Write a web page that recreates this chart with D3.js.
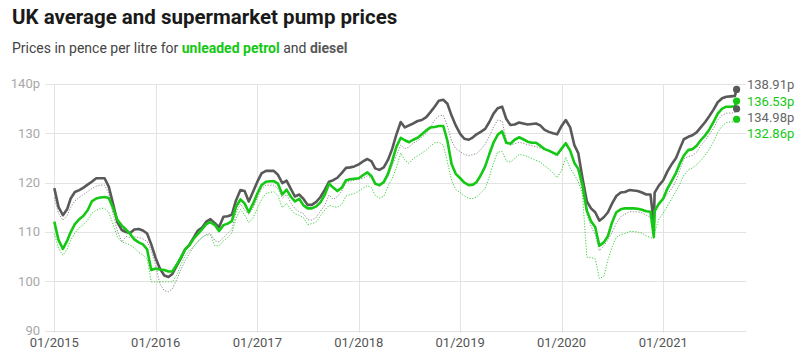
<!DOCTYPE html>
<html lang="en">
<head>
<meta charset="UTF-8">
<title>UK average and supermarket pump prices</title>
<style>
  body { margin: 0; background: #fff; font-family: Roboto, "Noto Sans", sans-serif; }
  .title { font-size: 20.5px; font-weight: 700; fill: #1a1a1a; }
  .subtitle { font-size: 14px; fill: #444; }
  .grid line { stroke: #e3e3e3; stroke-width: 1px; shape-rendering: crispEdges; }
  .ylab { font-size: 13px; fill: #a8a8a8; }
  .xlab { font-size: 13px; fill: #555; }
  .endlab { font-size: 13px; }
</style>
</head>
<body>
<div id="chart"></div>
<script src="https://cdn.jsdelivr.net/npm/d3@7"></script>
<script>
// half-monthly readings, plus one single-day dip in Nov 2020
const dates = [
  "2015-01-01","2015-01-16","2015-02-01","2015-02-16","2015-03-01","2015-03-16","2015-04-01","2015-04-16",
  "2015-05-01","2015-05-16","2015-06-01","2015-06-16","2015-07-01","2015-07-16","2015-08-01","2015-08-16",
  "2015-09-01","2015-09-16","2015-10-01","2015-10-16","2015-11-01","2015-11-16","2015-12-01","2015-12-16",
  "2016-01-01","2016-01-16","2016-02-01","2016-02-16","2016-03-01","2016-03-16","2016-04-01","2016-04-16",
  "2016-05-01","2016-05-16","2016-06-01","2016-06-16","2016-07-01","2016-07-16","2016-08-01","2016-08-16",
  "2016-09-01","2016-09-16","2016-10-01","2016-10-16","2016-11-01","2016-11-16","2016-12-01","2016-12-16",
  "2017-01-01","2017-01-16","2017-02-01","2017-02-16","2017-03-01","2017-03-16","2017-04-01","2017-04-16",
  "2017-05-01","2017-05-16","2017-06-01","2017-06-16","2017-07-01","2017-07-16","2017-08-01","2017-08-16",
  "2017-09-01","2017-09-16","2017-10-01","2017-10-16","2017-11-01","2017-11-16","2017-12-01","2017-12-16",
  "2018-01-01","2018-01-16","2018-02-01","2018-02-16","2018-03-01","2018-03-16","2018-04-01","2018-04-16",
  "2018-05-01","2018-05-16","2018-06-01","2018-06-16","2018-07-01","2018-07-16","2018-08-01","2018-08-16",
  "2018-09-01","2018-09-16","2018-10-01","2018-10-16","2018-11-01","2018-11-16","2018-12-01","2018-12-16",
  "2019-01-01","2019-01-16","2019-02-01","2019-02-16","2019-03-01","2019-03-16","2019-04-01","2019-04-16",
  "2019-05-01","2019-05-16","2019-06-01","2019-06-16","2019-07-01","2019-07-16","2019-08-01","2019-08-16",
  "2019-09-01","2019-09-16","2019-10-01","2019-10-16","2019-11-01","2019-11-16","2019-12-01","2019-12-16",
  "2020-01-01","2020-01-16","2020-02-01","2020-02-16","2020-03-01","2020-03-16","2020-04-01","2020-04-16",
  "2020-05-01","2020-05-16","2020-06-01","2020-06-16","2020-07-01","2020-07-16","2020-08-01","2020-08-16",
  "2020-09-01","2020-09-16","2020-10-01","2020-10-16","2020-11-01","2020-11-16","2020-11-28","2020-12-01",
  "2020-12-16","2021-01-01","2021-01-16","2021-02-01","2021-02-16","2021-03-01","2021-03-16","2021-04-01",
  "2021-04-16","2021-05-01","2021-05-16","2021-06-01","2021-06-16","2021-07-01","2021-07-16","2021-08-01",
  "2021-08-16","2021-09-01","2021-09-16","2021-09-22"
];

// UK average diesel (pence per litre)
const ukDiesel = [
  118.9,115.1,113.4,114.6,116.8,118.1,118.5,119.0,119.6,120.2,120.9,120.9,120.9,119.2,115.6,112.0,
  110.4,110.0,109.8,110.5,110.6,110.3,109.7,107.5,104.7,102.6,101.2,100.9,101.5,103.1,104.7,106.5,
  107.4,108.8,110.3,110.9,112.1,112.6,111.8,111.0,113.1,113.2,113.5,116.4,118.5,118.3,116.2,118.1,
  120.2,121.9,122.4,122.4,122.4,121.6,119.9,120.4,118.8,117.2,117.6,116.7,115.5,115.5,116.1,117.1,
  118.6,120.2,120.5,121.0,122.0,123.0,123.1,123.3,123.7,124.3,124.8,124.3,122.9,122.6,123.1,124.6,
  126.8,129.7,132.3,131.2,131.6,132.0,132.5,132.7,133.3,134.3,135.4,136.6,136.8,136.0,133.6,131.6,
  129.9,128.9,128.7,129.2,129.8,130.3,130.9,132.3,134.0,135.1,135.4,132.9,131.7,131.8,132.2,132.0,
  131.8,131.9,132.0,131.6,130.7,130.3,130.0,129.8,131.5,132.7,131.2,127.6,126.0,121.0,116.2,114.8,
  114.0,112.3,113.0,114.0,115.8,117.3,118.0,118.1,118.5,118.4,118.3,118.0,117.6,117.6,111.8,118.0,
  119.4,120.5,122.3,123.8,125.0,126.8,128.8,129.3,129.6,130.2,131.2,132.3,133.5,134.8,136.3,137.1,
  137.4,137.5,137.6,138.91
];

// UK average unleaded petrol
const ukPetrol = [
  112.1,108.4,106.6,108.2,110.0,111.6,112.6,113.3,114.4,116.2,116.8,117.0,117.1,116.9,114.8,112.5,
  111.3,110.5,109.6,108.5,107.9,107.5,106.5,102.3,102.6,102.4,102.3,102.0,102.0,103.3,104.9,106.5,
  107.3,108.6,109.6,110.6,111.6,112.0,111.4,110.2,111.4,111.7,112.2,115.1,116.6,115.8,114.0,115.7,
  117.8,119.5,120.2,120.3,120.3,119.8,117.6,118.6,117.2,116.2,116.7,115.4,114.8,114.8,115.2,116.0,
  117.6,119.8,119.0,118.3,119.0,120.5,120.7,120.8,120.9,121.5,122.1,121.3,119.8,119.5,120.1,121.8,
  124.3,127.2,129.1,128.6,128.2,128.7,129.1,129.8,130.6,131.2,131.3,131.5,131.5,128.5,123.8,121.8,
  120.9,120.0,119.5,119.6,120.1,121.5,123.3,125.8,128.1,129.7,130.4,128.1,127.9,128.7,129.2,128.8,
  128.3,128.1,128.1,127.5,126.8,126.5,126.1,125.7,126.9,128.0,126.5,124.0,122.8,119.6,114.3,112.2,
  111.0,107.2,107.9,109.2,112.0,114.0,114.6,114.8,114.8,114.8,114.7,114.5,114.2,114.1,109.0,114.3,
  115.7,116.8,118.8,120.4,122.0,123.8,125.5,126.6,126.8,127.5,128.6,129.6,130.8,132.3,134.0,135.0,
  135.4,135.4,135.5,136.53
];

// supermarket diesel
const superDiesel = [
  117.0,113.8,112.4,113.3,115.0,116.3,117.0,117.6,118.2,118.8,119.3,119.5,119.5,117.8,113.5,110.2,
  108.0,109.1,108.9,109.0,108.9,108.6,108.1,106.3,103.2,99.5,98.1,97.9,98.5,100.3,102.4,104.2,
  105.6,107.0,108.1,108.9,109.5,109.7,108.2,108.0,108.9,109.7,110.5,113.9,115.7,114.4,113.6,114.8,
  116.9,118.8,119.5,119.5,119.5,118.8,116.9,117.6,116.0,114.7,114.1,113.7,112.5,112.4,113.0,114.2,
  115.5,117.5,116.6,117.2,118.3,120.0,120.3,120.5,120.7,120.9,121.4,120.9,119.8,119.2,119.9,121.3,
  123.5,125.5,127.6,126.9,127.2,128.0,128.5,129.2,130.0,131.2,132.7,133.5,133.7,131.5,128.5,126.9,
  126.3,125.7,125.5,125.7,125.9,126.7,127.8,129.4,131.3,132.7,132.5,128.6,127.6,127.9,128.2,128.0,
  127.7,127.5,127.3,127.0,126.8,126.3,125.8,125.4,126.6,127.9,126.5,124.3,122.5,118.0,113.6,111.2,
  109.4,106.2,107.2,108.4,109.9,111.8,113.1,113.6,114.1,114.1,114.1,113.9,113.4,112.9,112.8,113.6,
  115.5,116.5,117.7,118.8,120.4,122.5,124.8,125.3,125.5,126.2,127.5,128.6,129.8,131.0,132.7,133.7,
  134.1,134.1,134.2,134.98
];

// supermarket unleaded petrol
const superPetrol = [
  109.7,106.7,105.3,106.5,108.3,109.8,110.9,111.5,112.4,113.8,114.4,114.8,114.8,114.0,111.5,109.0,
  108.0,107.7,107.4,106.8,105.9,105.3,104.6,99.9,99.9,99.9,99.9,99.9,99.9,101.2,103.4,105.2,
  106.3,107.0,108.1,108.9,109.4,109.4,107.2,107.2,108.2,108.9,109.8,112.7,114.6,113.5,111.9,112.8,
  114.8,116.6,117.8,118.0,118.2,117.4,114.9,115.8,114.6,113.7,113.4,112.9,111.5,111.7,112.0,113.3,
  114.5,115.4,115.2,115.0,115.6,117.3,117.6,117.8,118.3,118.9,119.4,119.0,117.4,116.9,117.2,119.3,
  120.8,123.0,126.0,124.5,123.9,124.9,125.4,126.0,126.6,127.4,128.1,128.2,127.6,124.2,120.5,118.6,
  118.0,117.3,116.8,116.8,117.1,117.9,118.9,121.2,124.0,126.2,126.3,124.4,124.2,124.9,125.7,125.6,
  125.3,124.9,124.5,124.2,123.4,122.8,122.0,121.0,122.5,125.2,122.9,121.6,120.2,117.7,104.9,104.8,
  104.6,100.6,101.0,104.4,107.0,108.9,109.5,109.7,110.1,110.1,110.0,109.8,109.2,108.9,108.7,110.0,
  112.6,113.8,115.3,116.8,118.3,119.6,121.5,122.6,123.0,123.6,124.5,125.6,126.8,128.3,130.2,131.5,
  132.2,132.3,132.4,132.86
];

const yTicks = [90, 100, 110, 120, 130, 140];
const xTickYears = [2015, 2016, 2017, 2018, 2019, 2020, 2021];

const width = 812;
const height = 363;
const green = "#14c814";
const greenLight = "#3ad23a";
const grey = "#595959";
const greyLight = "#8a8a8a";

const parse = d3.timeParse("%Y-%m-%d");
const dateObjs = dates.map(parse);

const series = [
  { key: "superDiesel", values: superDiesel, color: greyLight, dotted: true, dot: grey },
  { key: "superPetrol", values: superPetrol, color: greenLight, dotted: true, dot: green },
  { key: "ukDiesel", values: ukDiesel, color: grey, dotted: false, dot: grey },
  { key: "ukPetrol", values: ukPetrol, color: green, dotted: false, dot: green }
];

const x = d3.scaleTime()
  .domain([parse("2015-01-01"), parse("2021-09-22")])
  .range([54.3, 736.6]);
const y = d3.scaleLinear().domain([90, 140]).range([330.7, 84]);

const svg = d3.select("#chart").append("svg")
  .attr("width", width)
  .attr("height", height);

// titles
svg.append("text").attr("class", "title").attr("x", 12).attr("y", 24)
  .text("UK average and supermarket pump prices");

const sub = svg.append("text").attr("class", "subtitle").attr("x", 12).attr("y", 53);
sub.append("tspan").text("Prices in pence per litre for ");
sub.append("tspan").attr("font-weight", 700).attr("fill", green).text("unleaded petrol");
sub.append("tspan").text(" and ");
sub.append("tspan").attr("font-weight", 700).attr("fill", grey).text("diesel");

// grid
const grid = svg.append("g").attr("class", "grid");
grid.selectAll("line.h").data(yTicks).join("line")
  .attr("class", "h")
  .attr("x1", 45).attr("x2", 746)
  .attr("y1", d => Math.round(y(d)) + 0.5).attr("y2", d => Math.round(y(d)) + 0.5);
grid.selectAll("line.v").data(xTickYears).join("line")
  .attr("class", "v")
  .attr("x1", d => Math.round(x(new Date(d, 0, 1))) + 0.5)
  .attr("x2", d => Math.round(x(new Date(d, 0, 1))) + 0.5)
  .attr("y1", y(140)).attr("y2", y(90) + 2);

// y labels
svg.selectAll("text.ylab").data(yTicks).join("text")
  .attr("class", "ylab")
  .attr("x", 40)
  .attr("y", d => y(d))
  .attr("dy", "0.33em")
  .attr("text-anchor", "end")
  .text(d => d === 140 ? d + "p" : d);

// x labels
const fmt = d3.timeFormat("%m/%Y");
svg.selectAll("text.xlab").data(xTickYears).join("text")
  .attr("class", "xlab")
  .attr("x", d => x(new Date(d, 0, 1)))
  .attr("y", 347)
  .attr("text-anchor", "middle")
  .text(d => fmt(new Date(d, 0, 1)));

// lines
const line = d3.line()
  .x((d, i) => x(dateObjs[i]))
  .y(d => y(d));

svg.selectAll("path.series").data(series).join("path")
  .attr("class", "series")
  .attr("fill", "none")
  .attr("stroke", d => d.color)
  .attr("stroke-width", d => d.dotted ? 1 : 2.6)
  .attr("stroke-dasharray", d => d.dotted ? "1.2,1.6" : null)
  .attr("stroke-linejoin", "round")
  .attr("d", d => line(d.values));

// end dots and labels
const last = dateObjs.length - 1;
const ends = series.map(s => ({ v: s.values[last], color: s.dot }));
svg.selectAll("circle.end").data(ends).join("circle")
  .attr("class", "end")
  .attr("cx", x(dateObjs[last]))
  .attr("cy", d => y(d.v))
  .attr("r", 3.6)
  .attr("fill", d => d.color);

// spread labels so they do not overlap
const labs = ends.slice().sort((a, b) => b.v - a.v).map(d => ({ ...d, ly: y(d.v) }));
const gap = 16.2;
for (let iter = 0; iter < 100; iter++) {
  for (let i = 1; i < labs.length; i++) {
    const diff = labs[i].ly - labs[i - 1].ly;
    if (diff < gap) {
      const push = (gap - diff) / 2;
      labs[i].ly += push;
      labs[i - 1].ly -= push;
    }
  }
}
svg.selectAll("text.endlab").data(labs).join("text")
  .attr("class", "endlab")
  .attr("x", 747)
  .attr("y", d => d.ly + 4.6)
  .attr("dy", "0.35em")
  .attr("fill", d => d.color === green ? green : "#666")
  .text(d => d3.format(".2f")(d.v) + "p");
</script>
</body>
</html>
